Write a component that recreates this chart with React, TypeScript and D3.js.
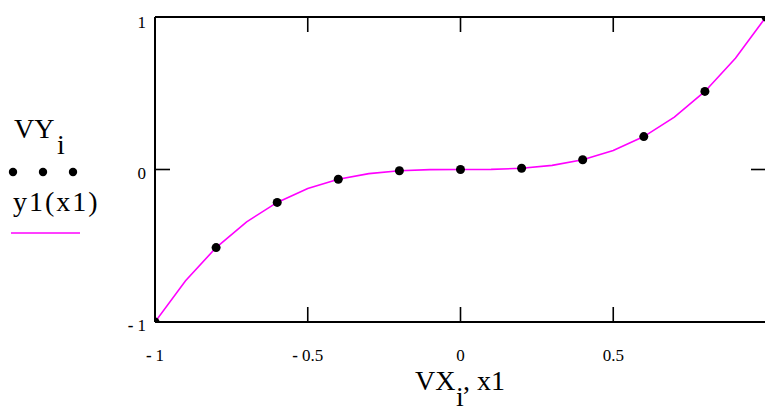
import * as d3 from "d3";

// data points (VX_i, VY_i) and the traced function y1(x1)
const VX = [-1, -0.8, -0.6, -0.4, -0.2, 0, 0.2, 0.4, 0.6, 0.8, 1];
const VY = [-1, -0.512, -0.216, -0.064, -0.008, 0, 0.008, 0.064, 0.216, 0.512, 1];
const x1 = [-1, -0.9, -0.8, -0.7, -0.6, -0.5, -0.4, -0.3, -0.2, -0.1, 0, 0.1, 0.2, 0.3, 0.4, 0.5, 0.6, 0.7, 0.8, 0.9, 1];
const y1 = [-1, -0.729, -0.512, -0.343, -0.216, -0.125, -0.064, -0.027, -0.008, -0.001, 0, 0.001, 0.008, 0.027, 0.064, 0.125, 0.216, 0.343, 0.512, 0.729, 1];

const xTicks = [-1, -0.5, 0, 0.5];
const xTickLabels = ["-1", "-0.5", "0", "0.5"];
const yTicks = [-1, 0, 1];
const yTickLabels = ["-1", "0", "1"];

const W = 765, H = 408;
const left = 155, right = 766, top = 17, bottom = 322;
const FONT = "'Liberation Serif', 'Times New Roman', serif";

// Mathcad draws the minus as a short heavy bar
function Num({ s }: { s: string }) {
  if (s.startsWith("-")) {
    return (
      <>
        <tspan fontWeight="bold">-</tspan>
        <tspan dx="4">{s.slice(1)}</tspan>
      </>
    );
  }
  return <>{s}</>;
}

export default function App() {
  const x = d3.scaleLinear().domain([-1, 1]).range([left, right]);
  const y = d3.scaleLinear().domain([-1, 1]).range([bottom, top]);

  const line = d3.line<number>()
    .x((d, i) => x(x1[i]))
    .y((d) => y(d));

  const tickLen = 15;

  return (
    <svg width={W} height={H} style={{ position: "absolute", left: 0, top: 0 }}>
      <defs>
        <clipPath id="plot">
          <rect x={left} y={top} width={right - left} height={bottom - top} />
        </clipPath>
      </defs>

      {/* function trace and data points */}
      <g clipPath="url(#plot)">
        <path d={line(y1) || ""} fill="none" stroke="#ff00ff" strokeWidth={1.6} />
        {VX.map((vx, i) => (
          <circle key={i} cx={x(vx)} cy={y(VY[i])} r={4.5} fill="#000" />
        ))}
      </g>

      {/* frame */}
      <g stroke="#000" strokeWidth={2} fill="none">
        <line x1={left} y1={top} x2={right} y2={top} />
        <line x1={left} y1={bottom} x2={right} y2={bottom} />
        <line x1={left} y1={top} x2={left} y2={bottom} />
        <line x1={right} y1={top} x2={right} y2={bottom} />
      </g>

      {/* ticks */}
      <g stroke="#000" strokeWidth={1.6}>
        {xTicks.slice(1).map((t) => (
          <g key={t}>
            <line x1={x(t)} x2={x(t)} y1={top} y2={top + tickLen} />
            <line x1={x(t)} x2={x(t)} y1={bottom} y2={bottom - tickLen} />
          </g>
        ))}
        <line x1={left} x2={left + tickLen} y1={y(0)} y2={y(0)} />
        <line x1={right} x2={right - tickLen} y1={y(0)} y2={y(0)} />
      </g>

      {/* tick labels */}
      <g fontSize={17} fill="#000" fontFamily={FONT}>
        {xTicks.map((t, i) => (
          <text key={t} x={x(t)} y={361} textAnchor="middle">
            <Num s={xTickLabels[i]} />
          </text>
        ))}
        {yTicks.map((t, i) => (
          <text key={t} x={146} y={Math.max(y(t), top + 2) + 9} textAnchor="end">
            <Num s={yTickLabels[i]} />
          </text>
        ))}
      </g>

      {/* legend on the left */}
      <g fontSize={28} fill="#000" fontFamily={FONT}>
        <text x={14} y={138}>VY</text>
        <text x={57} y={154}>i</text>
        <text x={13} y={211} letterSpacing={2}>y1(x1)</text>
      </g>
      {[13, 43, 73].map((cx) => (
        <circle key={cx} cx={cx} cy={172} r={4.2} fill="#000" />
      ))}
      <line x1={11} x2={80} y1={233} y2={233} stroke="#ff00ff" strokeWidth={1.6} />

      {/* x axis title */}
      <g fontSize={28} fill="#000" fontFamily={FONT}>
        <text x={415} y={390}>VX</text>
        <text x={456} y={406}>i</text>
        <text x={463} y={390}>, x1</text>
      </g>
    </svg>
  );
}
